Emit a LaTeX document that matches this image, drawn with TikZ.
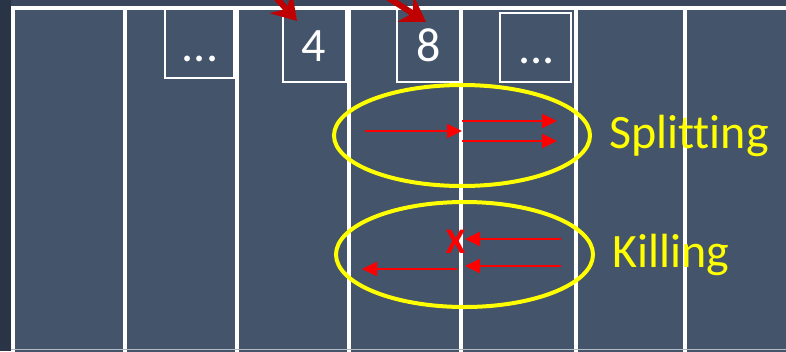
\documentclass[tikz,border=0pt]{standalone}
\usepackage{fontspec}
\setmainfont[Ligatures={NoCommon}]{Carlito}
\usetikzlibrary{arrows.meta,shapes.geometric}
\definecolor{bgdark}{HTML}{2A3447}
\definecolor{topstrip}{HTML}{3A475C}
\definecolor{panel}{HTML}{44546A}
\definecolor{darkred}{HTML}{C00000}
\definecolor{brightred}{HTML}{FF0000}
\definecolor{yel}{HTML}{FFFF00}
\tikzset{
  colline/.style={draw=white,line width=4pt},
  cellbox/.style={draw=white,line width=1.2pt,rectangle,inner sep=0pt},
  bigtxt/.style={font=\fontsize{48}{50}\selectfont,inner sep=0pt,anchor=base},
  labtxt/.style={font=\fontsize{48}{50}\selectfont,inner sep=0pt,anchor=base west,text=yel},
  ring/.style={draw=yel,line width=4pt,ellipse,inner sep=0pt},
  redarrow/.style={draw=brightred,line width=2.2pt,-{Triangle[length=15pt,width=14pt]}},
  bigarrow/.style={draw=darkred,line width=6pt,-{Stealth[length=24pt,width=30pt,inset=8pt]}}
}
\begin{document}
\begin{tikzpicture}[x=1pt,y=-1pt]
\useasboundingbox (0,0) rectangle (786,351);
\fill[bgdark] (0,0) rectangle (786,351);
\fill[topstrip] (11,0) rectangle (786,6);
\fill[panel] (11,6) rectangle (790,355);
% frame and columns
\draw[colline] (11,8) -- (790,8);
\foreach \cx in {13,125,237,349,461,576,685}{
  \draw[colline] (\cx,8) -- (\cx,356);
}
\draw[draw=white!60!panel,line width=1pt] (11,349.5) -- (786,349.5);
% cells
\node[cellbox,minimum width=69pt,minimum height=70pt] (b1) at (199.5,43) {};
\node[cellbox,minimum width=63pt,minimum height=74pt] (b4) at (314.5,45) {};
\node[cellbox,minimum width=63pt,minimum height=74pt] (b8) at (428.5,45) {};
\node[cellbox,minimum width=71pt,minimum height=69pt] (b2) at (535.5,47.5) {};
\node[bigtxt,text=white] (t1) at (200,61) {...};
\node[bigtxt,text=white] (t4) at (314,61) {4};
\node[bigtxt,text=white] (t8) at (429,61) {8};
\node[bigtxt,text=white] (t2) at (536.5,63) {...};
% incoming arrows
\coordinate (s4) at (262,-18);
\coordinate (e4) at (297,21);
\coordinate (s8) at (370,-14);
\coordinate (e8) at (426,22);
\draw[bigarrow] (s4) -- (e4);
\draw[bigarrow] (s8) -- (e8);
% splitting
\node[ring,minimum width=256pt,minimum height=101pt] (split) at (462,135.5) {};
\coordinate (a1s) at (365,131);
\coordinate (a1e) at (462,131);
\coordinate (a2s) at (462,121);
\coordinate (a2e) at (557,121);
\coordinate (a3s) at (462,141);
\coordinate (a3e) at (557,141);
\draw[redarrow] (a1s) -- (a1e);
\draw[redarrow] (a2s) -- (a2e);
\draw[redarrow] (a3s) -- (a3e);
\node[labtxt] (splitlab) at (609,148) {Splitting};
% killing
\node[ring,minimum width=257pt,minimum height=105pt] (kill) at (464.5,254.5) {};
\coordinate (k1s) at (561,239);
\coordinate (k1e) at (465,239);
\coordinate (k2s) at (561,266);
\coordinate (k2e) at (465,266);
\coordinate (k3s) at (457,269);
\coordinate (k3e) at (362,269);
\draw[redarrow] (k1s) -- (k1e);
\draw[redarrow] (k2s) -- (k2e);
\draw[redarrow] (k3s) -- (k3e);
\node[font=\fontsize{36}{38}\selectfont\bfseries,text=brightred,inner sep=0pt] (x) at (455.5,242) {X};
\node[labtxt] (killlab) at (612,267) {Killing};
\end{tikzpicture}
\end{document}
